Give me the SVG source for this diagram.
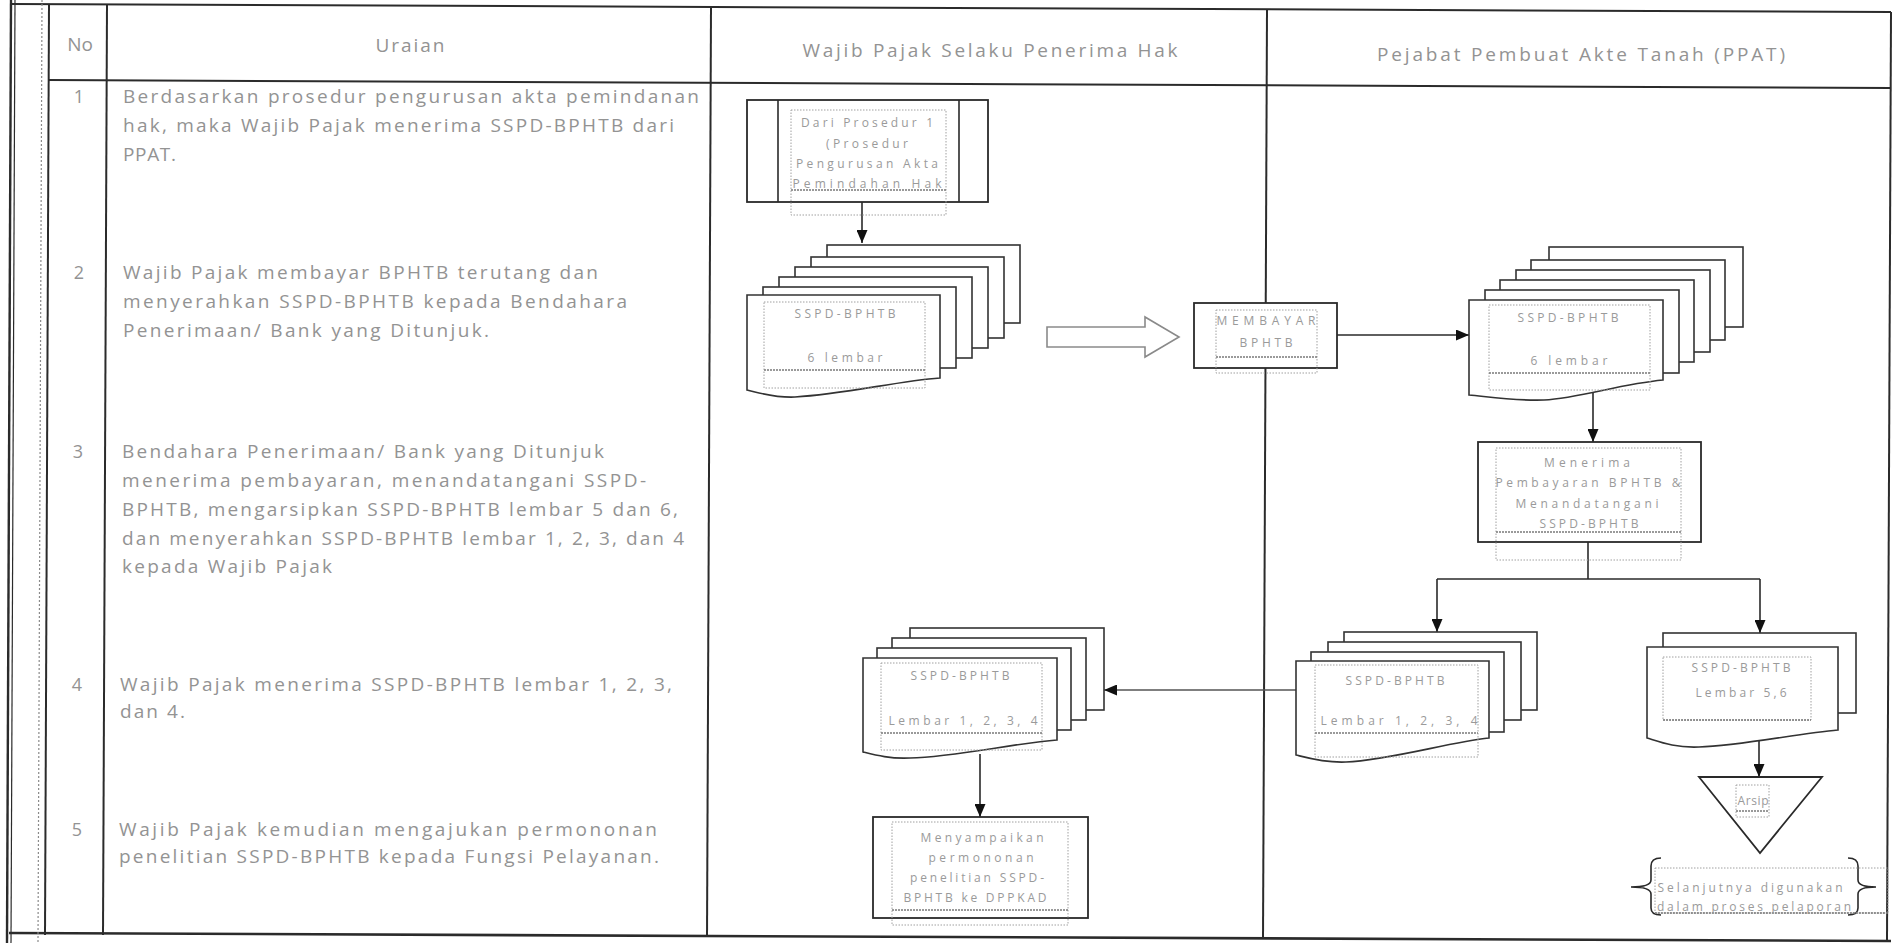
<svg xmlns="http://www.w3.org/2000/svg" width="1892" height="943" viewBox="0 0 1892 943">
<style>
.t{font-family:"Open Sans","Liberation Sans",sans-serif;fill:#939393}
.body{font-size:19px}
.hdr{font-size:19px;text-anchor:middle}
.num{font-size:18px;text-anchor:middle}
.nt{font-size:12px;text-anchor:middle;fill:#9a9a9a}
.tbl{stroke:#2b2b2b;stroke-width:2;fill:none}
.tdot{stroke:#8a8a8a;stroke-width:1.2;stroke-dasharray:2 2;fill:none}
.box{fill:#fff;stroke:#2a2a2a;stroke-width:1.8}
.sheet{fill:#fff;stroke:#333;stroke-width:1.6}
.dot{fill:none;stroke:#a0a0a0;stroke-width:1;stroke-dasharray:1.5 1.5}
.dotb{fill:none;stroke:#7a7a7a;stroke-width:1.6;stroke-dasharray:2 1}
.conn{fill:none;stroke:#2a2a2a;stroke-width:1.6}
.thin{fill:none;stroke:#555;stroke-width:1.3}
.hollow{fill:#fff;stroke:#8a8a8a;stroke-width:1.6}
</style>
<defs>
<marker id="ah" markerWidth="13" markerHeight="11" refX="13" refY="5.5" orient="auto" markerUnits="userSpaceOnUse"><path d="M0,0 L13,5.5 L0,11 Z" fill="#111"/></marker>
</defs>
<rect width="1892" height="943" fill="#fff"/>

<g id="table">
<line class="tbl" x1="12" y1="4" x2="1891" y2="12"/>
<line class="tbl" x1="48" y1="80" x2="1891" y2="88"/>
<line class="tbl" x1="9" y1="933" x2="1891" y2="941" style="stroke-width:2.6"/>
<line class="tbl" x1="11" y1="0" x2="7" y2="943" style="stroke-width:2.4"/>
<line class="tbl" x1="15" y1="0" x2="11" y2="943" style="stroke-width:1.2"/>
<line class="tdot" x1="42" y1="0" x2="38" y2="943"/>
<line class="tbl" x1="49" y1="4" x2="45" y2="935"/>
<line class="tbl" x1="107" y1="4" x2="103" y2="935"/>
<line class="tbl" x1="711" y1="7" x2="707" y2="937"/>
<line class="tbl" x1="1267" y1="10" x2="1263" y2="939"/>
<line class="tbl" x1="1891" y1="12" x2="1887" y2="941"/>
<text class="t hdr" x="80" y="51">No</text>
<text class="t hdr" x="410" y="52" textLength="69" lengthAdjust="spacing">Uraian</text>
<text class="t hdr" x="990" y="57" textLength="375" lengthAdjust="spacing">Wajib Pajak Selaku  Penerima Hak</text>
<text class="t hdr" x="1581" y="61" textLength="408" lengthAdjust="spacing">Pejabat Pembuat Akte Tanah (PPAT)</text>
</g>

<g id="uraian">
<text class="t num" x="79" y="103">1</text>
<text class="t body" x="123" y="103" textLength="576" lengthAdjust="spacing">Berdasarkan prosedur pengurusan akta pemindanan</text>
<text class="t body" x="123" y="132" textLength="551" lengthAdjust="spacing">hak, maka Wajib Pajak menerima SSPD-BPHTB dari</text>
<text class="t body" x="123" y="161" textLength="53" lengthAdjust="spacing">PPAT.</text>
<text class="t num" x="79" y="279">2</text>
<text class="t body" x="123" y="279" textLength="475" lengthAdjust="spacing">Wajib Pajak membayar BPHTB terutang dan</text>
<text class="t body" x="123" y="308" textLength="504" lengthAdjust="spacing">menyerahkan SSPD-BPHTB kepada Bendahara</text>
<text class="t body" x="123" y="337" textLength="366" lengthAdjust="spacing">Penerimaan/ Bank yang Ditunjuk.</text>
<text class="t num" x="78" y="458">3</text>
<text class="t body" x="122" y="458" textLength="482" lengthAdjust="spacing">Bendahara Penerimaan/ Bank yang Ditunjuk</text>
<text class="t body" x="122" y="487" textLength="524" lengthAdjust="spacing">menerima pembayaran, menandatangani SSPD-</text>
<text class="t body" x="122" y="516" textLength="556" lengthAdjust="spacing">BPHTB, mengarsipkan SSPD-BPHTB lembar 5 dan 6,</text>
<text class="t body" x="122" y="545" textLength="562" lengthAdjust="spacing">dan menyerahkan SSPD-BPHTB lembar 1, 2, 3, dan 4</text>
<text class="t body" x="122" y="573" textLength="210" lengthAdjust="spacing">kepada Wajib Pajak</text>
<text class="t num" x="77" y="691">4</text>
<text class="t body" x="120" y="691" textLength="552" lengthAdjust="spacing">Wajib Pajak menerima SSPD-BPHTB lembar 1, 2, 3,</text>
<text class="t body" x="120" y="718" textLength="65" lengthAdjust="spacing">dan 4.</text>
<text class="t num" x="77" y="836">5</text>
<text class="t body" x="119" y="836" textLength="538" lengthAdjust="spacing">Wajib Pajak kemudian mengajukan permononan</text>
<text class="t body" x="119" y="863" textLength="540" lengthAdjust="spacing">penelitian SSPD-BPHTB kepada Fungsi Pelayanan.</text>
</g>

<g id="connectors">
<line class="conn" x1="862" y1="202" x2="862" y2="243" marker-end="url(#ah)"/>
<line class="conn" x1="1337" y1="335" x2="1469" y2="335" marker-end="url(#ah)"/>
<line class="conn" x1="1593" y1="390" x2="1593" y2="442" marker-end="url(#ah)"/>
<polyline class="conn" points="1588,542 1588,579"/>
<line class="conn" x1="1437" y1="579" x2="1760" y2="579"/>
<line class="conn" x1="1437" y1="579" x2="1437" y2="632" marker-end="url(#ah)"/>
<line class="conn" x1="1760" y1="579" x2="1760" y2="633" marker-end="url(#ah)"/>
<line class="thin" x1="1296" y1="690" x2="1104" y2="690" marker-end="url(#ah)"/>
<line class="conn" x1="980" y1="754" x2="980" y2="817" marker-end="url(#ah)"/>
<line class="conn" x1="1759" y1="738" x2="1759" y2="777" marker-end="url(#ah)"/>
<path class="hollow" d="M1047,327 H1145 V317 L1179,337 L1145,357 V347 H1047 Z"/>
</g>

<g id="dari-prosedur">
<rect class="box" x="747" y="100" width="241" height="102"/>
<line class="conn" x1="778" y1="100" x2="778" y2="202"/>
<line class="conn" x1="959" y1="100" x2="959" y2="202"/>
<rect class="dot" x="791" y="110" width="155" height="105"/>
<line class="dotb" x1="791" y1="190" x2="946" y2="190"/>
<text class="t nt" x="867" y="127" textLength="132" lengthAdjust="spacing">Dari Prosedur 1</text>
<text class="t nt" x="867" y="148" textLength="82" lengthAdjust="spacing">(Prosedur</text>
<text class="t nt" x="867" y="168" textLength="142" lengthAdjust="spacing">Pengurusan Akta</text>
<text class="t nt" x="867" y="188" textLength="149" lengthAdjust="spacing">Pemindahan Hak</text>
</g>

<g id="sspd-wp-6">
<rect class="sheet" x="827" y="245" width="193" height="78"/>
<rect class="sheet" x="811" y="257" width="193" height="81"/>
<rect class="sheet" x="795" y="267" width="193" height="81"/>
<rect class="sheet" x="779" y="277" width="193" height="81"/>
<rect class="sheet" x="763" y="287" width="193" height="81"/>
<path class="sheet" d="M747,295 H940 V378 C898,381 845,394 795,397 C775,398 760,393 747,390 Z"/>
<rect class="dot" x="764" y="302" width="161" height="86"/>
<line class="dotb" x1="764" y1="370" x2="925" y2="370"/>
<text class="t nt" x="845" y="318" textLength="101" lengthAdjust="spacing">SSPD-BPHTB</text>
<text class="t nt" x="845" y="362" textLength="75" lengthAdjust="spacing">6 lembar</text>
</g>

<g id="membayar">
<rect class="box" x="1194" y="303" width="143" height="65"/>
<rect class="dot" x="1216" y="310" width="101" height="63"/>
<line class="dotb" x1="1216" y1="357" x2="1317" y2="357"/>
<text class="t nt" x="1266" y="325" textLength="99" lengthAdjust="spacing">MEMBAYAR</text>
<text class="t nt" x="1266" y="347" textLength="53" lengthAdjust="spacing">BPHTB</text>
</g>

<g id="sspd-ppat-6">
<rect class="sheet" x="1549" y="247" width="194" height="80"/>
<rect class="sheet" x="1531" y="260" width="194" height="80"/>
<rect class="sheet" x="1516" y="270" width="194" height="82"/>
<rect class="sheet" x="1500" y="280" width="194" height="82"/>
<rect class="sheet" x="1485" y="290" width="194" height="83"/>
<path class="sheet" d="M1469,300 H1663 V380 C1620,384 1580,398 1544,400 C1515,401 1490,397 1469,395 Z"/>
<rect class="dot" x="1489" y="305" width="161" height="85"/>
<line class="dotb" x1="1489" y1="373" x2="1650" y2="373"/>
<text class="t nt" x="1568" y="322" textLength="101" lengthAdjust="spacing">SSPD-BPHTB</text>
<text class="t nt" x="1569" y="365" textLength="77" lengthAdjust="spacing">6 lembar</text>
</g>

<g id="menerima">
<rect class="box" x="1478" y="442" width="223" height="100"/>
<rect class="dot" x="1496" y="448" width="185" height="112"/>
<line class="dotb" x1="1496" y1="532" x2="1681" y2="532"/>
<text class="t nt" x="1587" y="467" textLength="86" lengthAdjust="spacing">Menerima</text>
<text class="t nt" x="1588" y="487" textLength="185" lengthAdjust="spacing">Pembayaran BPHTB &amp;</text>
<text class="t nt" x="1587" y="508" textLength="143" lengthAdjust="spacing">Menandatangani</text>
<text class="t nt" x="1589" y="528" textLength="99" lengthAdjust="spacing">SSPD-BPHTB</text>
</g>

<g id="sspd-ppat-1234">
<rect class="sheet" x="1344" y="632" width="193" height="78"/>
<rect class="sheet" x="1328" y="642" width="193" height="78"/>
<rect class="sheet" x="1311" y="652" width="193" height="80"/>
<path class="sheet" d="M1296,661 H1489 V738 C1450,742 1390,760 1346,762 C1325,763 1308,758 1296,755 Z"/>
<rect class="dot" x="1315" y="665" width="163" height="92"/>
<line class="dotb" x1="1315" y1="733" x2="1478" y2="733"/>
<text class="t nt" x="1395" y="685" textLength="99" lengthAdjust="spacing">SSPD-BPHTB</text>
<text class="t nt" x="1399" y="725" textLength="157" lengthAdjust="spacing">Lembar 1, 2, 3, 4</text>
</g>

<g id="sspd-ppat-56">
<rect class="sheet" x="1663" y="633" width="193" height="80"/>
<path class="sheet" d="M1647,647 H1838 V730 C1800,733 1740,746 1699,747 C1675,748 1660,742 1647,738 Z"/>
<rect class="dot" x="1663" y="657" width="148" height="63"/>
<line class="dotb" x1="1663" y1="720" x2="1811" y2="720"/>
<text class="t nt" x="1741" y="672" textLength="99" lengthAdjust="spacing">SSPD-BPHTB</text>
<text class="t nt" x="1741" y="697" textLength="91" lengthAdjust="spacing">Lembar 5,6</text>
</g>

<g id="arsip">
<path class="box" d="M1699,777 H1822 L1760,853 Z"/>
<rect class="dot" x="1736" y="785" width="33" height="32"/>
<line class="dotb" x1="1736" y1="811" x2="1769" y2="811"/>
<text class="t nt" x="1753" y="805" textLength="31" lengthAdjust="spacing">Arsip</text>
</g>

<g id="keterangan">
<path class="conn" d="M1661,858 Q1651,858 1651,866 V880 Q1651,887 1631,887 Q1651,887 1651,894 V908 Q1651,915 1661,915"/>
<path class="conn" d="M1848,858 Q1858,858 1858,866 V880 Q1858,887 1876,887 Q1858,887 1858,894 V908 Q1858,915 1848,915"/>
<rect class="dot" x="1655" y="868" width="233" height="45"/>
<line class="dotb" x1="1655" y1="913" x2="1888" y2="913"/>
<text class="t nt" x="1750" y="892" textLength="185" lengthAdjust="spacing">Selanjutnya digunakan</text>
<text class="t nt" x="1754" y="911" textLength="194" lengthAdjust="spacing">dalam proses pelaporan</text>
</g>

<g id="sspd-wp-1234">
<rect class="sheet" x="910" y="628" width="194" height="82"/>
<rect class="sheet" x="892" y="638" width="194" height="82"/>
<rect class="sheet" x="877" y="648" width="194" height="82"/>
<path class="sheet" d="M863,658 H1057 V740 C1015,743 955,757 910,758 C890,759 875,755 863,752 Z"/>
<rect class="dot" x="881" y="663" width="161" height="87"/>
<line class="dotb" x1="881" y1="733" x2="1042" y2="733"/>
<text class="t nt" x="960" y="680" textLength="99" lengthAdjust="spacing">SSPD-BPHTB</text>
<text class="t nt" x="963" y="725" textLength="149" lengthAdjust="spacing">Lembar 1, 2, 3, 4</text>
</g>

<g id="menyampaikan">
<rect class="box" x="873" y="817" width="215" height="101"/>
<rect class="dot" x="892" y="822" width="176" height="103"/>
<line class="dotb" x1="892" y1="910" x2="1068" y2="910"/>
<text class="t nt" x="982" y="842" textLength="123" lengthAdjust="spacing">Menyampaikan</text>
<text class="t nt" x="981" y="862" textLength="105" lengthAdjust="spacing">permononan</text>
<text class="t nt" x="977" y="882" textLength="134" lengthAdjust="spacing">penelitian SSPD-</text>
<text class="t nt" x="975" y="902" textLength="143" lengthAdjust="spacing">BPHTB ke DPPKAD</text>
</g>
</svg>
